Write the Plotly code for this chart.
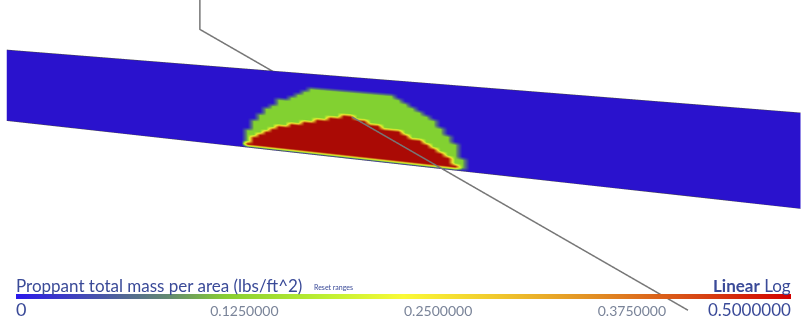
import numpy as np
import plotly.graph_objects as go

# ---------------- data ----------------
# fracture plane (ft along fracture, true vertical depth of bottom edge at both ends)
frac_end_x = [-1165, 1165]
frac_bottom_tvd = [7842, 8100]
frac_height = 236

# proppant pack outline read per 20 ft station (height above fracture bottom, ft)
prop_x = [-340, -320, -300, -280, -260, -240, -220, -200, -180, -160, -140, -120,
          -100, -80, -60, -40, -20, 0, 20, 40, 60, 80, 100, 120, 140, 160, 180,
          200, 220, 240, 260, 280, 300, 320, 340, 360, 380]
green_top = [0, 5, 52, 85, 108, 123, 137, 150, 158, 166, 175, 185,
             190, 190, 190, 190, 190, 190, 190, 190, 190, 190, 190, 190, 190, 180, 176,
             166, 157, 142, 130, 115, 97, 70, 35, 5, 0]
red_top = [0, 0, 15, 33, 45, 54, 62, 70, 76, 82, 88, 93,
           98, 104, 108, 113, 118, 122, 126, 118, 112, 106, 101, 98, 95, 90, 84,
           78, 71, 63, 55, 45, 32, 16, 0, 0, 0]
green_value = 0.135
red_value = 0.5

# wellbore trajectory (ft along fracture, ft normal to fracture, TVD ft)
well_x = [-797, -797, 714]
well_y = [476, 476, -400]
well_tvd = [7200, 7396, 8236]

cbar_title = "Proppant total mass per area (lbs/ft^2)"
tick_vals = [0.125, 0.25, 0.375]
cmin, cmax = 0.0, 0.5

# ---------------- build grid ----------------
xs = np.array([frac_end_x[0]] + prop_x + [frac_end_x[1]], dtype=float)
g = np.array([0] + green_top + [0], dtype=float)
r = np.array([0] + red_top + [0], dtype=float)
hs = np.append(np.arange(0, frac_height, 10), frac_height).astype(float)

bot_tvd = np.interp(xs, frac_end_x, frac_bottom_tvd)
X, H = np.meshgrid(xs, hs)
Z = -(bot_tvd[None, :]) + H
Y = np.zeros_like(X)
V = np.zeros_like(X)
V[(H <= g[None, :]) & (H > 0)] = green_value
V[(H <= r[None, :]) & (H > 0)] = red_value

# colour scale of the legend bar
cs_bar = [[0.00, "rgb(42,24,235)"], [0.10, "rgb(70,80,175)"], [0.20, "rgb(100,140,110)"],
          [0.27, "rgb(135,205,50)"], [0.40, "rgb(190,240,50)"], [0.50, "rgb(250,250,55)"],
          [0.62, "rgb(240,200,45)"], [0.75, "rgb(225,140,35)"], [0.88, "rgb(215,70,20)"],
          [1.00, "rgb(210,0,0)"]]
# same scale as shaded on the fracture face
cs_face = [[0.00, "rgb(42,18,205)"], [0.10, "rgb(65,75,160)"], [0.20, "rgb(95,135,105)"],
           [0.27, "rgb(131,211,48)"], [0.40, "rgb(180,230,45)"], [0.50, "rgb(235,235,50)"],
           [0.62, "rgb(225,185,40)"], [0.75, "rgb(205,125,30)"], [0.88, "rgb(185,60,15)"],
           [1.00, "rgb(170,10,5)"]]

fig = go.Figure()
fig.add_trace(go.Surface(
    x=X, y=Y, z=Z, surfacecolor=V, colorscale=cs_face, cmin=cmin, cmax=cmax,
    showscale=False,
    lighting=dict(ambient=1, diffuse=0, specular=0, roughness=1, fresnel=0),
    hoverinfo="skip",
))
# fracture edges (top and bottom)
fig.add_trace(go.Scatter3d(x=xs, y=np.zeros_like(xs), z=-bot_tvd, mode="lines",
                           line=dict(color="#444", width=1), hoverinfo="skip", showlegend=False))
fig.add_trace(go.Scatter3d(x=xs, y=np.zeros_like(xs), z=-bot_tvd + frac_height, mode="lines",
                           line=dict(color="#444", width=1), hoverinfo="skip", showlegend=False))
fig.add_trace(go.Scatter3d(x=well_x, y=well_y, z=[-t for t in well_tvd], mode="lines",
                           line=dict(color="#767676", width=3), hoverinfo="skip", showlegend=False))
# legend bar for the proppant scale
fig.add_trace(go.Scatter3d(
    x=[well_x[-1]], y=[well_y[-1]], z=[-well_tvd[-1]], mode="markers", hoverinfo="skip",
    showlegend=False,
    marker=dict(size=1, opacity=0, color=[cmin], cmin=cmin, cmax=cmax, colorscale=cs_bar,
                showscale=True,
                colorbar=dict(orientation="h", x=16/808, xanchor="left", y=1-294/336,
                              yanchor="top", len=775/808, lenmode="fraction", thickness=5,
                              thicknessmode="pixels", outlinewidth=0, xpad=0, ypad=0,
                              tickvals=tick_vals, tickformat=".7f", ticks="",
                              ticklabelposition="outside right",
                              tickfont=dict(family="Lato", size=14, color="#7a8499"))),
))

ax = dict(visible=False, showbackground=False, showgrid=False, zeroline=False)
fig.update_layout(
    width=808, height=336, margin=dict(l=0, r=0, t=0, b=0),
    paper_bgcolor="white", showlegend=False,
    scene=dict(
        domain=dict(x=[0, 1], y=[0, 1]),
        xaxis=dict(range=[-1300, 1300], **ax),
        yaxis=dict(range=[-600, 600], **ax),
        zaxis=dict(range=[-8900, -7100], **ax),
        aspectmode="manual", aspectratio=dict(x=2.6, y=1.2, z=1.8),
        camera=dict(eye=dict(x=0.3504, y=-1.1365, z=0.0),
                    center=dict(x=0.1987, y=-0.148, z=0.0),
                    up=dict(x=0, y=0, z=1),
                    projection=dict(type="perspective")),
        bgcolor="white",
    ),
)

def ann(text, x, y, xanchor, size, color, yanchor="middle"):
    fig.add_annotation(text=text, x=x/808, y=1-y/336, xref="paper", yref="paper",
                       xanchor=xanchor, yanchor=yanchor, showarrow=False,
                       font=dict(family="Lato", size=size, color=color))

ann(cbar_title, 14, 285, "left", 17, "#3a4a98")
ann("Reset ranges", 312, 287, "left", 7, "#3a4a98")
ann("<b>Linear</b> Log", 793, 285, "right", 17, "#3a4a98")
ann("0", 14, 309, "left", 18, "#3a4a98")
ann("0.5000000", 793, 309, "right", 17, "#3a4a98")

fig.write_html("out.html")
